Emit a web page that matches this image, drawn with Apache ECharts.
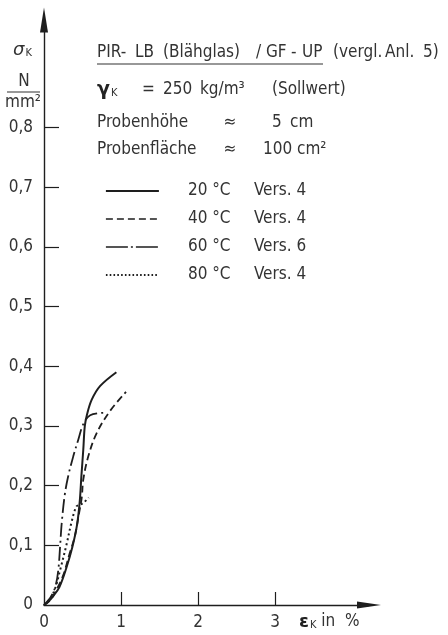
<!DOCTYPE html>
<html><head><meta charset="utf-8">
<script src="https://cdn.jsdelivr.net/npm/echarts@6/dist/echarts.min.js"></script>
<style>html,body{margin:0;padding:0;background:#fff}#c{width:448px;height:635px}</style>
</head><body><div id="c"></div>
<script>
// ---- data ----
const tempLabels = ['20 °C', '40 °C', '60 °C', '80 °C'];
const versLabels = ['Vers. 4', 'Vers. 4', 'Vers. 6', 'Vers. 4'];
const xTickLabels = [0, 1, 2, 3];
const yTickLabels = [0, 0.1, 0.2, 0.3, 0.4, 0.5, 0.6, 0.7, 0.8];

const strain20 = [0, 0.05, 0.12, 0.2, 0.29, 0.37, 0.43, 0.465, 0.485, 0.51, 0.53, 0.56, 0.62, 0.73, 0.94];
const stress20 = [0, 0.005, 0.015, 0.03, 0.062, 0.098, 0.135, 0.175, 0.215, 0.26, 0.30, 0.32, 0.344, 0.367, 0.39];

const strain40 = [0, 0.08, 0.16, 0.25, 0.33, 0.40, 0.45, 0.49, 0.51, 0.575, 0.684, 0.857, 1.065];
const stress40 = [0, 0.008, 0.025, 0.05, 0.085, 0.115, 0.15, 0.18, 0.21, 0.249, 0.288, 0.325, 0.357];

const strain60 = [0, 0.09, 0.15, 0.186, 0.21, 0.23, 0.27, 0.316, 0.38, 0.445, 0.51, 0.6, 0.77];
const stress60 = [0, 0.014, 0.032, 0.059, 0.1, 0.137, 0.185, 0.217, 0.249, 0.277, 0.303, 0.318, 0.322];

const strain80 = [0, 0.08, 0.15, 0.21, 0.29, 0.36, 0.42, 0.47, 0.52, 0.58];
const stress80 = [0, 0.01, 0.03, 0.059, 0.1, 0.14, 0.165, 0.168, 0.172, 0.18];

// ---- chart ----
const FONT = "'Liberation Sans Narrow','DejaVu Sans Condensed',sans-serif";
const FS = 17;
const TXT = '#333';
const INK = '#1e1e1e';
const pairs = (xs, ys) => xs.map((x, i) => [x, ys[i]]);

const styles = [
  { type: 'solid', width: 2 },
  { type: [7, 4], width: 1.8 },
  { type: [14, 4, 2, 4], width: 1.8 },
  { type: [2, 3], width: 2 }
];
const legendStyles = [
  { type: 'solid', width: 1.8 },
  { type: [7, 4], width: 1.6 },
  { type: [22, 3, 2, 3], width: 1.6 },
  { type: [1.6, 2.2], width: 1.8 }
];
const allData = [pairs(strain20, stress20), pairs(strain40, stress40), pairs(strain60, stress60), pairs(strain80, stress80)];

const series = tempLabels.map((name, i) => ({
  name, type: 'line', data: allData[i], smooth: 0.35, symbol: 'none',
  lineStyle: { color: INK, width: styles[i].width, type: styles[i].type },
  itemStyle: { color: INK }, z: 3
}));

function t(text, x, y, extra) {
  return { type: 'text', x, y, style: Object.assign({ text, font: FS + 'px ' + FONT, fill: TXT, align: 'left', verticalAlign: 'middle' }, extra || {}) };
}

const graphic = [
  // y-axis title
  { type: 'text', x: 13, y: 50, style: { text: '{s|σ}{k|K}', fill: TXT, verticalAlign: 'middle',
    rich: { s: { font: 'italic 18px DejaVu Sans', fill: TXT }, k: { font: '11px ' + FONT, fill: TXT, padding: [7, 0, 0, 1] } } } },
  t('N', 24, 82, { align: 'center' }),
  { type: 'line', shape: { x1: 7, y1: 92, x2: 40, y2: 92 }, style: { stroke: TXT, lineWidth: 1.2 } },
  t('mm²', 23, 103, { align: 'center' }),
  // header
  t('PIR-', 97, 53), t('LB', 135, 53), t('(Blähglas)', 163, 53), t('/', 256, 53), t('GF', 266, 53), t('-', 291, 53), t('UP', 302, 53),
  { type: 'line', shape: { x1: 97, y1: 64, x2: 323, y2: 64 }, style: { stroke: TXT, lineWidth: 1.2 } },
  t('(vergl.', 333, 53), t('Anl.', 385, 53), t('5)', 423, 53),
  { type: 'text', x: 97, y: 90, style: { text: '{g|γ}{k|K}', fill: TXT, verticalAlign: 'middle',
    rich: { g: { font: 'bold 19px DejaVu Sans', fill: '#222' }, k: { font: '11px ' + FONT, fill: TXT, padding: [7, 0, 0, 1] } } } },
  t('=', 142, 90), t('250', 163, 90), t('kg/m³', 200, 90), t('(Sollwert)', 272, 90),
  t('Probenhöhe', 97, 123), t('≈', 230, 123, { align: 'center' }), t('5', 272, 123), t('cm', 290, 123),
  t('Probenfläche', 97, 150), t('≈', 230, 150, { align: 'center' }), t('100', 263, 150), t('cm²', 297, 150),
  // x-axis title
  { type: 'text', x: 299, y: 622, style: { text: '{e|ε}{k|K}{n| in  %}', fill: TXT, verticalAlign: 'middle',
    rich: { e: { font: 'bold 18px DejaVu Sans', fill: '#222' }, k: { font: '11px ' + FONT, fill: TXT, padding: [7, 0, 0, 1] }, n: { font: FS + 'px ' + FONT, fill: TXT } } } }
];

const chart = echarts.init(document.getElementById('c'), null, { renderer: 'canvas' });
chart.setOption({
  animation: false,
  backgroundColor: '#fff',
  grid: { left: 44, right: 79, top: 20, bottom: 30, containLabel: false },
  xAxis: {
    type: 'value', min: 0, max: 4.22,
    axisLine: { show: true, onZero: false, lineStyle: { color: INK, width: 1.4 }, symbol: ['none', 'triangle'], symbolSize: [7, 24] },
    axisTick: { show: true, inside: true, length: 13, customValues: [1, 2, 3], lineStyle: { color: INK, width: 1.2 } },
    axisLabel: { customValues: xTickLabels, margin: 9, color: TXT, fontFamily: FONT, fontSize: FS, hideOverlap: false },
    splitLine: { show: false }
  },
  yAxis: {
    type: 'value', min: 0, max: 0.98,
    axisLine: { show: true, onZero: false, lineStyle: { color: INK, width: 1.4 }, symbol: ['none', 'triangle'], symbolSize: [8, 25] },
    axisTick: { show: true, inside: true, length: 15, customValues: [0.1, 0.2, 0.3, 0.4, 0.5, 0.6, 0.7, 0.8], lineStyle: { color: INK, width: 1.2 } },
    axisLabel: { customValues: yTickLabels, margin: 11, color: TXT, fontFamily: FONT, fontSize: FS, hideOverlap: false,
      formatter: v => String(v).replace('.', ',') },
    splitLine: { show: false }
  },
  legend: {
    orient: 'vertical', left: 100, top: 176, itemWidth: 53, itemHeight: 14, itemGap: 8,
    selectedMode: false,
    data: tempLabels.map((name, i) => ({ name, itemStyle: { opacity: 0 },
      lineStyle: { color: INK, width: legendStyles[i].width, type: legendStyles[i].type } })),
    formatter: name => '{s| }{a|' + name + '}{b|' + versLabels[tempLabels.indexOf(name)] + '}',
    textStyle: { fontFamily: FONT, fontSize: FS, color: TXT, lineHeight: 20,
      rich: { s: { width: 24 }, a: { width: 66, fontFamily: FONT, fontSize: FS, color: TXT }, b: { fontFamily: FONT, fontSize: FS, color: TXT } } }
  },
  graphic,
  series
});
</script></body></html>
